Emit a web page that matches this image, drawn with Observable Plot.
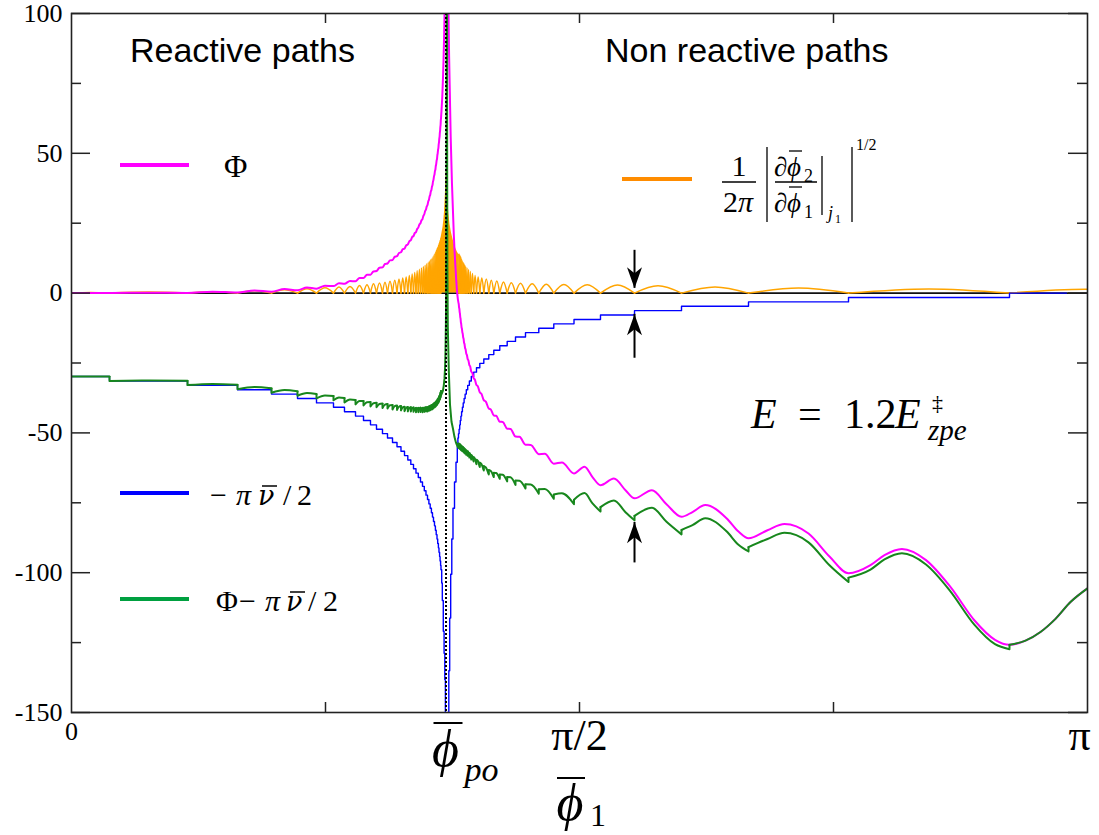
<!DOCTYPE html>
<html>
<head>
<meta charset="utf-8">
<script src="https://cdn.jsdelivr.net/npm/d3@7"></script>
<script src="https://cdn.jsdelivr.net/npm/@observablehq/plot@0.6"></script>
<style>
  html, body { margin: 0; padding: 0; background: #fff; }
  #figure svg { display: block; }
</style>
</head>
<body>
<div id="figure"></div>
<script>
// Angles φ̄1 in radians; Φ, −πν̄/2 and Φ−πν̄/2 in radians of phase.

// Reactive side (φ̄1 < φ̄po): where the count ν̄ goes up by one,
// the ν̄ that holds after each step, and Φ at each step.
const stepXL = [0.0000, 0.1175, 0.3587, 0.5133, 0.6184, 0.6988, 0.7576, 0.8101, 0.8441, 0.8782,
                0.9029, 0.9245, 0.9431, 0.9616, 0.9771, 0.9926, 1.0065, 1.0188, 1.0297, 1.0399,
                1.0492, 1.0575, 1.0652, 1.0723, 1.0791, 1.0853, 1.0909, 1.0961, 1.1008, 1.1051,
                1.1091, 1.1129, 1.1162, 1.1193, 1.1224, 1.1252, 1.1277, 1.1302, 1.1323, 1.1345,
                1.1363, 1.1382, 1.1397, 1.1413, 1.1425];
const stepNuL = [19, 20, 21, 22, 23, 24, 25, 26, 27, 28,
                 29, 30, 31, 32, 33, 34, 35, 36, 37, 38,
                 39, 40, 41, 42, 43, 44, 45, 46, 47, 48,
                 49, 50, 51, 52, 53, 54, 55, 56, 57, 58,
                 59, 60, 61, 62, 63];
const stepPhiL = [0.0, 0.02, 0.08, 0.2, 0.5, 1.0, 1.6, 2.5, 3.3, 4.2,
                  5.4, 6.6, 7.9, 9.2, 10.6, 11.8, 13.2, 14.6, 15.9, 17.4,
                  18.9, 20.4, 21.8, 23.4, 25.0, 26.5, 28.2, 29.9, 31.5, 33.3,
                  35.1, 36.9, 38.6, 40.5, 42.4, 44.2, 46.1, 48.0, 50.0, 51.9,
                  53.9, 56.0, 58.0, 60.2, 62.4];
// Φ half-way between consecutive steps (the small wiggles)
const peakPhiL = [0.05, 0.15, 0.5, 0.95, 1.45, 2.0, 2.65, 3.5, 4.35, 5.4,
                  6.55, 7.75, 9.05, 10.4, 11.7, 13.0, 14.35, 15.7, 17.05, 18.55,
                  20.05, 21.45, 22.95, 24.55, 26.05, 27.65, 29.35, 31.0, 32.7, 34.5,
                  36.3, 38.05, 39.85, 41.75, 43.6, 45.45, 47.35, 49.3, 51.25, 53.2,
                  55.25, 57.3, 59.4, 61.6];
// top of the orange arch between consecutive steps
const archHL = [0.2, 0.35, 0.5, 0.8, 1.2, 1.6, 1.9, 2.2, 2.4, 2.7,
                3.0, 3.3, 3.6, 3.9, 4.2, 4.6, 5.0, 5.4, 5.8, 6.3,
                6.8, 7.4, 8.0, 8.5, 9.0, 9.5, 10.0, 10.5, 11.0, 11.5,
                12.0, 12.4, 13.0, 13.6, 14.2, 14.8, 15.4, 16.0, 16.6, 17.2,
                17.8, 18.4, 19.0, 19.6];

// Around φ̄po, where the steps are too close to tell apart
const phiPo = 1.1580;
const phiCoreLX = [1.1447, 1.1466, 1.1487, 1.1503, 1.1518, 1.1534, 1.1543];
const phiCoreL = [66.5, 70.5, 77, 83, 90, 99, 106];
const blueCoreLX = [1.1447, 1.1466, 1.1496, 1.1521, 1.1543, 1.1561];
const blueCoreLNu = [66, 70, 77, 82, 88, 96];
const greenCoreLX = [1.1456, 1.1487, 1.1512, 1.1534, 1.1552, 1.1564, 1.1577, 1.1586, 1.1592, 1.1598, 1.1602];
const greenCoreL = [-35.8, -34.8, -33.0, -30.5, -26.5, -21, -11, 0, 20, 60, 105];

const phiCoreRX = [1.1651, 1.1657, 1.1676, 1.1698, 1.1725, 1.1765, 1.1821, 1.1874, 1.1926];
const phiCoreR = [106, 100, 85, 72, 56, 39, 21, 9, 0];
const blueCoreRX = [1.1642, 1.1667, 1.1694, 1.1725, 1.1759, 1.1796, 1.1843, 1.1889, 1.1929, 1.1948];
const blueCoreRNu = [98, 86, 74, 64, 56, 49, 43, 38.5, 35, 33];
const greenCoreRX = [1.1611, 1.1617, 1.1623, 1.1636, 1.1667, 1.1704, 1.1750, 1.1796, 1.1843, 1.1889, 1.1935];
const greenCoreR = [105, 40, 10, -12, -28, -40, -46, -48.5, -51.5, -53.5, -54.8];

const orangeCoreX = [1.1425, 1.1456, 1.1487, 1.1512, 1.1534, 1.1552, 1.1571, 1.1589, 1.1608, 1.1620,
                     1.1636, 1.1667, 1.1704, 1.1750, 1.1796, 1.1843, 1.1889, 1.1935, 1.1966];
const orangeCoreH = [19.6, 21.5, 23.5, 26, 29, 33, 38, 43, 46, 41,
                     34, 28.5, 24.5, 21.5, 19.3, 17.3, 15.8, 14.6, 14.0];

// Non reactive side (φ̄1 > φ̄po): where ν̄ goes down by one, ν̄ after it, Φ there
const stepXR = [1.1966, 1.1985, 1.2004, 1.2022, 1.2041, 1.2062, 1.2087, 1.2112, 1.2140, 1.2171,
                1.2208, 1.2251, 1.2303, 1.2362, 1.2436, 1.2523, 1.2625, 1.2749, 1.2903, 1.3058,
                1.3243, 1.3472, 1.3729, 1.4038, 1.4449, 1.4913, 1.5538, 1.6357, 1.7409, 1.8862,
                2.0934, 2.4026, 2.9004];
const stepNuR = [32, 31, 30, 29, 28, 27, 26, 25, 24, 23,
                 22, 21, 20, 19, 18, 17, 16, 15, 14, 13,
                 12, 11, 10, 9, 8, 7, 6, 5, 4, 3,
                 2, 1, 0];
const stepPhiR = [-3.5, -5.2, -6.9, -8.7, -10.5, -12.3, -14.1, -15.9, -17.8, -19.7,
                  -21.7, -23.6, -25.8, -28.1, -30.4, -32.9, -35.5, -38.3, -41.3, -43.8,
                  -46.0, -48.5, -51.3, -54.2, -57.6, -61.0, -64.5, -68.7, -73.4, -80.0,
                  -87.7, -100.2, -125.8];
// Φ inside the step intervals (tops of the wiggles and points along the wider ones)
const innerXR = [1.1974, 1.1993, 1.2011, 1.2030, 1.2049, 1.2072, 1.2097, 1.2123, 1.2152, 1.2185,
                 1.2225, 1.2272, 1.2327, 1.2392, 1.2471, 1.2564, 1.2675, 1.2811, 1.2965, 1.3132,
                 1.3335, 1.3575, 1.3853, 1.4202, 1.4635, 1.5164,
                 1.5862, 1.6110, 1.6772, 1.7130, 1.7947, 1.8398,
                 1.9202, 1.9598, 2.0253, 2.0624,
                 2.1521, 2.2047, 2.2789, 2.3438,
                 2.4706, 2.5139, 2.5677, 2.6422, 2.7171, 2.7916, 2.8556];
const innerPhiR = [-3.9, -5.6, -7.3, -9.1, -10.9, -12.7, -14.5, -16.3, -18.2, -20.1,
                   -22.1, -24.0, -26.2, -28.5, -30.9, -33.3, -36.0, -38.8, -41.6, -43.9,
                   -46.1, -48.6, -51.4, -54.3, -57.5, -60.6,
                   -62.1, -65.8, -66.3, -70.5, -70.5, -75.5,
                   -78.3, -75.8, -80.5, -85.3,
                   -84.8, -82.6, -86.0, -94.2,
                   -97.3, -93.7, -91.5, -95.5, -105, -117, -124];
const archHR = [14.0, 13.6, 13.2, 12.8, 12.3, 11.8, 11.3, 10.8, 10.2, 9.6,
                9.0, 8.4, 7.7, 7.0, 6.3, 5.8, 5.4, 5.0, 4.6, 4.3,
                4.0, 3.7, 3.5, 3.3, 3.2, 3.1, 3.0, 2.9, 2.6, 2.2,
                1.8, 1.5, 1.4];
const orangeNextZero = 3.3673;

// after the last step (ν̄ = 0)
const tailX = [2.9499, 2.9962, 3.0426, 3.0890, 3.1416];
const tailPhi = [-124.3, -121.2, -116.5, -110.5, -105.6];
const blueEndX = 3.0766;

// axis ticks
const yMajor = [100, 50, 0, -50, -100, -150];
const yMinor = [75, 25, -25, -75, -125];
const xMinor = [Math.PI / 4, Math.PI / 2, 3 * Math.PI / 4];

// arrows marking one step on the non reactive side
const arrows = [
  {x: stepXR[28], tip: 1.7, tail: 15.3, dir: "down"},
  {x: stepXR[28], tip: -7.6, tail: -23.3, dir: "up"},
  {x: stepXR[28], tip: -82.0, tail: -96.5, dir: "up"}
];

const MAGENTA = "#ff00ff", ORANGE = "#ffa500", BLUE = "#0000ff", GREEN = "#17871c";
const SERIF = "'Liberation Serif', 'DejaVu Serif', serif";
const SANS = "'Liberation Sans', Arial, sans-serif";
const PHI = "\u03D5";

const HALF_PI = Math.PI / 2;
const level = nu => -HALF_PI * nu;               // −πν̄/2
const pts = (xs, ys) => xs.map((x, i) => ({x, y: ys[i]}));

// −πν̄/2 staircase on both sides
const blueLeft = [...pts(stepXL, stepNuL.map(level)), ...pts(blueCoreLX, blueCoreLNu.map(level))];
const blueRight = [...pts(blueCoreRX, blueCoreRNu.map(level)), ...pts(stepXR, stepNuR.map(level)),
                   {x: blueEndX, y: level(0)}];

// Φ
const phiLeft = [];
stepXL.forEach((x, i) => {
  phiLeft.push({x, y: stepPhiL[i]});
  if (i < peakPhiL.length) phiLeft.push({x: (x + stepXL[i + 1]) / 2, y: peakPhiL[i]});
});
phiLeft.push(...pts(phiCoreLX, phiCoreL));
const innerR = pts(innerXR, innerPhiR);
const phiRight = [...pts(phiCoreRX, phiCoreR), ...pts(stepXR, stepPhiR), ...innerR, ...pts(tailX, tailPhi)]
  .sort((a, b) => a.x - b.x);

// Φ − πν̄/2: one piece per step interval, plus the jumps at the steps
const greenSegs = [], greenJumps = [];
peakPhiL.forEach((p, i) => {
  const c = level(stepNuL[i]), seg = "L" + i;
  greenSegs.push({x: stepXL[i], y: stepPhiL[i] + c, seg},
                 {x: (stepXL[i] + stepXL[i + 1]) / 2, y: p + c, seg},
                 {x: stepXL[i + 1], y: stepPhiL[i + 1] + c, seg});
});
for (let i = 1; i < stepXL.length; i++) {
  greenJumps.push({x: stepXL[i], y1: stepPhiL[i] + level(stepNuL[i - 1]), y2: stepPhiL[i] + level(stepNuL[i])});
}
for (let i = 0; i < stepXR.length - 1; i++) {
  const c = level(stepNuR[i]), seg = "R" + i;
  greenSegs.push({x: stepXR[i], y: stepPhiR[i] + c, seg});
  innerR.filter(d => d.x > stepXR[i] && d.x < stepXR[i + 1])
        .forEach(d => greenSegs.push({x: d.x, y: d.y + c, seg}));
  greenSegs.push({x: stepXR[i + 1], y: stepPhiR[i + 1] + c, seg});
}
const nuBeforeR = blueCoreRNu[blueCoreRNu.length - 1];
stepXR.forEach((x, i) => {
  const before = i === 0 ? nuBeforeR : stepNuR[i - 1];
  greenJumps.push({x, y1: stepPhiR[i] + level(before), y2: stepPhiR[i] + level(stepNuR[i])});
});
const nL = stepXL.length - 1, nR = stepXR.length - 1;
const greenCoreLeft = [{x: stepXL[nL], y: stepPhiL[nL] + level(stepNuL[nL])}, ...pts(greenCoreLX, greenCoreL)];
const greenCoreRight = [...pts(greenCoreRX, greenCoreR), {x: stepXR[0], y: stepPhiR[0] + level(nuBeforeR)}];
const greenTail = [{x: stepXR[nR], y: stepPhiR[nR] + level(stepNuR[nR])},
                   ...pts(tailX, tailPhi.map(v => v + level(stepNuR[nR])))];

// orange arches: zero at every step, one hump per interval
const arches = [];
function addArches(zeros, heights, tag) {
  heights.forEach((h, i) => {
    const a = zeros[i], b = zeros[i + 1], k = tag + i;
    arches.push({x: a, y: 0, k}, {x: (a + b) / 2, y: h, k}, {x: b, y: 0, k});
  });
}
addArches(stepXL, archHL, "L");
addArches([...stepXR, orangeNextZero], archHR, "R");
const orangeCore = orangeCoreX.map((x, i) => ({x, h: orangeCoreH[i]}));

// filled barbed arrow head, tip at the origin, pointing up
const arrowHead = {
  draw(ctx) {
    ctx.moveTo(0, 0);
    ctx.lineTo(7.5, 21);
    ctx.lineTo(0, 15);
    ctx.lineTo(-7.5, 21);
    ctx.closePath();
  }
};

const fw = 1016, fh = 699;
const tickStyle = {stroke: "#222", strokeWidth: 1.5};
const lineOpts = (color, w) => ({x: "x", y: "y", stroke: color, strokeWidth: w, clip: true});

const plot = Plot.plot({
  width: 1099,
  height: 835,
  marginLeft: 71,
  marginRight: 12,
  marginTop: 13,
  marginBottom: 123,
  x: {domain: [0, Math.PI], label: null},
  y: {domain: [-150, 100], label: null},
  style: {background: "#fff", color: "#000"},
  marks: [
    Plot.ruleY([0], {stroke: "#111", strokeWidth: 1.8}),
    Plot.areaY(orangeCore, {x: "x", y1: 0, y2: "h", fill: ORANGE, clip: true}),
    Plot.line(arches, {...lineOpts(ORANGE, 1.5), z: "k", curve: "natural"}),
    Plot.line(blueLeft, {...lineOpts(BLUE, 1.4), curve: "step-after"}),
    Plot.line(blueRight, {...lineOpts(BLUE, 1.4), curve: "step-after"}),
    Plot.line(phiLeft, {...lineOpts(MAGENTA, 2), curve: "monotone-x"}),
    Plot.line(phiRight, {...lineOpts(MAGENTA, 2), curve: "monotone-x"}),
    Plot.line(greenSegs, {...lineOpts(GREEN, 2), z: "seg", curve: "monotone-x"}),
    Plot.ruleX(greenJumps, {x: "x", y1: "y1", y2: "y2", stroke: GREEN, strokeWidth: 2, clip: true}),
    Plot.line(greenCoreLeft, lineOpts(GREEN, 2)),
    Plot.line(greenCoreRight, lineOpts(GREEN, 2)),
    Plot.line(greenTail, {...lineOpts(GREEN, 2), curve: "monotone-x"}),
    Plot.ruleX([phiPo], {stroke: "#000", strokeWidth: 2, strokeDasharray: "2,2"}),
    Plot.ruleY(yMajor, {...tickStyle, insetRight: fw - 19}),
    Plot.ruleY(yMajor, {...tickStyle, insetLeft: fw - 19}),
    Plot.ruleY(yMinor, {...tickStyle, insetRight: fw - 10}),
    Plot.ruleY(yMinor, {...tickStyle, insetLeft: fw - 10}),
    Plot.ruleX(xMinor, {...tickStyle, insetTop: fh - 10}),
    Plot.ruleX(xMinor, {...tickStyle, insetBottom: fh - 10}),
    Plot.frame({stroke: "#222", strokeWidth: 1.6}),
    Plot.axisY(yMajor, {tickSize: 0, tickPadding: 9, fontSize: 26, fontFamily: SERIF,
                        tickFormat: d => String(d), label: null}),
    Plot.axisX([0], {tickSize: 0, tickPadding: 9, fontSize: 26, fontFamily: SERIF,
                     tickFormat: () => "0", label: null}),
    Plot.axisX([HALF_PI], {tickSize: 0, tickPadding: 6, fontSize: 44, fontFamily: SERIF,
                           tickFormat: () => "π/2", label: null}),
    Plot.axisX([Math.PI], {tickSize: 0, tickPadding: 6, fontSize: 44, fontFamily: SERIF, dx: -8,
                           tickFormat: () => "π", label: null}),
    Plot.ruleX(arrows, {x: "x", y1: "tail", y2: "tip", stroke: "#000", strokeWidth: 2}),
    Plot.dot(arrows, {x: "x", y: "tip", symbol: arrowHead, rotate: d => d.dir === "down" ? 180 : 0,
                      fill: "#000", stroke: "none"})
  ]
});
document.getElementById("figure").appendChild(plot);

// ---- annotations: legend, region titles, formulas, axis symbols
const svg = d3.select(plot);
const xs = plot.scale("x");
const ann = svg.append("g").attr("fill", "#000").attr("font-family", SERIF).attr("text-anchor", "start");

function txt(x, y, size, str, o = {}) {
  const t = ann.append("text").attr("x", x).attr("y", y).attr("font-size", size).text(str);
  if (o.italic) t.attr("font-style", "italic");
  if (o.family) t.attr("font-family", o.family);
  if (o.anchor) t.attr("text-anchor", o.anchor);
  return t;
}
function seg(x1, y1, x2, y2, w = 1.4, color = "#000") {
  ann.append("line").attr("x1", x1).attr("y1", y1).attr("x2", x2).attr("y2", y2)
    .attr("stroke", color).attr("stroke-width", w);
}

txt(130, 62, 34, "Reactive paths", {family: SANS});
txt(605, 62, 34, "Non reactive paths", {family: SANS});

// legend: Φ
seg(120, 165, 189, 165, 4, MAGENTA);
txt(224, 177, 32, "Φ");

// legend: (1/2π) |∂φ̄2/∂φ̄1|_{j1}|^{1/2}
seg(622, 179, 692, 179, 4, "#ff8c00");
txt(739, 176, 30, "1", {anchor: "middle"});
seg(722, 182, 756, 182, 1.3);
txt(723, 212, 30, "2");
txt(738, 212, 30, "π", {italic: true});
seg(767, 147, 767, 222, 1.3);
txt(774, 176, 27, "∂");
txt(787, 176, 27, PHI, {italic: true});
txt(804, 182, 18, "2");
seg(789, 151, 802, 151, 1.3);
seg(775, 182, 817, 182, 1.3);
txt(774, 212, 27, "∂");
txt(787, 212, 27, PHI, {italic: true});
txt(804, 218, 18, "1");
seg(789, 187, 802, 187, 1.3);
seg(822, 156, 822, 215, 1.3);
txt(828, 219, 18, "j", {italic: true});
txt(835, 223, 12, "1");
seg(852, 147, 852, 222, 1.3);
txt(856, 150, 16, "1/2");

// legend: −πν̄/2
const NU = {italic: true, family: "'DejaVu Serif', serif"};
seg(120, 493, 189, 493, 4, BLUE);
txt(210, 505, 30, "−");
txt(236, 505, 30, "π", {italic: true});
txt(258, 505, 27, "ν", NU);
seg(262, 486, 277, 486, 1.5);
txt(283, 505, 30, "/");
txt(297, 505, 30, "2");

// legend: Φ−πν̄/2
seg(120, 599, 189, 599, 4, "#00a040");
txt(216, 611, 30, "Φ");
txt(239, 611, 30, "−");
txt(265, 611, 30, "π", {italic: true});
txt(286, 611, 27, "ν", NU);
seg(290, 592, 305, 592, 1.5);
txt(308, 611, 30, "/");
txt(323, 611, 30, "2");

// E = 1.2 E‡zpe
txt(751, 428, 42, "E", {italic: true});
txt(798, 428, 42, "=");
txt(844, 428, 42, "1.2");
txt(895, 428, 42, "E", {italic: true});
txt(932, 410, 22, "‡");
txt(928, 440, 29, "zpe", {italic: true});

// axis symbols φ̄po and φ̄1
const xPo = xs.apply(phiPo);
txt(xPo, 766, 52, PHI, {italic: true, anchor: "middle"});
seg(xPo - 12, 723, xPo + 17, 723, 2);
txt(xPo + 19, 781, 34, "po", {italic: true});
const xHalf = xs.apply(HALF_PI);
txt(xHalf - 9, 820, 52, PHI, {italic: true, anchor: "middle"});
seg(xHalf - 22, 778, xHalf + 6, 778, 2);
txt(xHalf + 11, 826, 32, "1");
</script>
</body>
</html>
